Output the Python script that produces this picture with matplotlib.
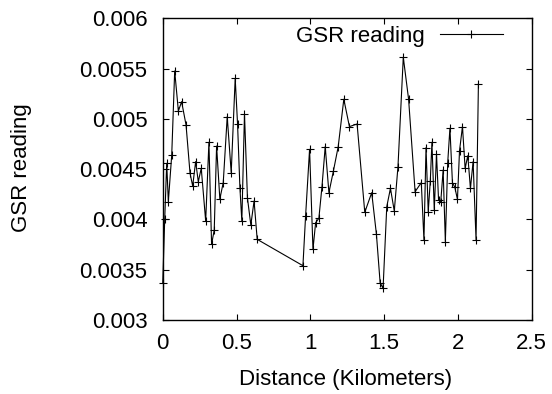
import matplotlib
matplotlib.use("Agg")
import matplotlib.pyplot as plt

plt.rcParams['font.family'] = ['Liberation Sans', 'DejaVu Sans']

# distance (km) and GSR reading
dist = [0.0, 0.0135, 0.027, 0.038, 0.061, 0.081, 0.106, 0.128, 0.158, 0.185,
        0.203, 0.223, 0.241, 0.261, 0.291, 0.313, 0.331, 0.349, 0.365, 0.387,
        0.41, 0.437, 0.464, 0.491, 0.507, 0.523, 0.536, 0.554, 0.574, 0.597,
        0.619, 0.64,
        0.95, 0.968, 0.995, 1.018, 1.036, 1.058, 1.079, 1.101, 1.126, 1.157,
        1.189, 1.227, 1.265, 1.317, 1.369, 1.416, 1.448, 1.473, 1.493, 1.518,
        1.543, 1.569, 1.594, 1.63, 1.666,
        1.71, 1.752, 1.77, 1.784, 1.799, 1.813, 1.824, 1.84, 1.855, 1.869,
        1.884, 1.9, 1.915, 1.931, 1.946, 1.963, 1.979, 1.997, 2.011, 2.031,
        2.049, 2.067, 2.085, 2.103, 2.123, 2.139]
gsr = [0.003365, 0.004004, 0.004558, 0.004177, 0.004641, 0.005476, 0.005078,
       0.005171, 0.004939, 0.004459, 0.004333, 0.004575, 0.004376, 0.004508,
       0.003985, 0.004767, 0.003753, 0.003895, 0.00473, 0.004203, 0.004366,
       0.005022, 0.004465, 0.005403, 0.004949, 0.004316, 0.003985, 0.005049,
       0.004213, 0.003945, 0.004184, 0.003802,
       0.00354, 0.004034, 0.004697, 0.003703, 0.003968, 0.004011, 0.004326,
       0.004724, 0.004266, 0.004485, 0.004724, 0.005195, 0.004923, 0.004949,
       0.004071, 0.004266, 0.003852, 0.003371, 0.003315, 0.004127, 0.004309,
       0.004084, 0.004525, 0.005612, 0.005195,
       0.004276, 0.004366, 0.003796, 0.004714, 0.004077, 0.004383, 0.004767,
       0.004094, 0.004651, 0.004193, 0.004177, 0.004492, 0.003779, 0.004565,
       0.004906, 0.004366, 0.00432, 0.0042, 0.004684, 0.004923, 0.004508,
       0.004634, 0.004309, 0.004575, 0.003796, 0.005347]

xticks = [0, 0.5, 1, 1.5, 2, 2.5]
xticklabels = ['0', '0.5', '1', '1.5', '2', '2.5']
yticks = [0.003, 0.0035, 0.004, 0.0045, 0.005, 0.0055, 0.006]
yticklabels = ['0.003', '0.0035', '0.004', '0.0045', '0.005', '0.0055', '0.006']

fs = 16
fig = plt.figure(figsize=(5.52, 3.94), dpi=100)
ax = fig.add_axes([0.2948, 0.1878, 0.6684, 0.7658])

ax.plot(dist, gsr, color='black', lw=0.8, marker='+', ms=6, mew=0.8,
        label='GSR reading', clip_on=False)

ax.set_xlim(0, 2.5)
ax.set_ylim(0.003, 0.006)
ax.set_xticks(xticks)
ax.set_xticklabels(xticklabels)
ax.set_yticks(yticks)
ax.set_yticklabels(yticklabels)
ax.tick_params(direction='in', top=True, right=True, labelsize=fs, length=4)
ax.tick_params(axis='y', pad=11)
ax.tick_params(axis='x', pad=9)
for s in ax.spines.values():
    s.set_linewidth(1.0)

fig.text(346 / 552, 1 - 380 / 394, 'Distance (Kilometers)', fontsize=fs,
         ha='center', va='center')
fig.text(22 / 552, 1 - 168 / 394, 'GSR reading', fontsize=fs, rotation=90,
         ha='center', va='center')

ax.legend(loc='upper right', frameon=False, fontsize=fs, markerfirst=False,
          handlelength=2.8, borderaxespad=0.0, handletextpad=0.7,
          bbox_to_anchor=(0.945, 1.003))

plt.savefig('out.png', dpi=100)
